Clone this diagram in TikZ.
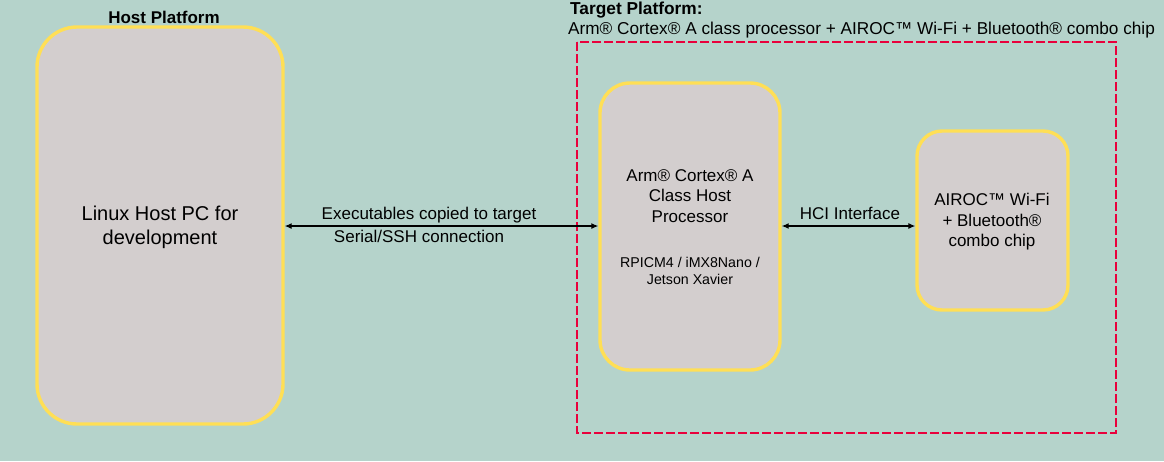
\documentclass[tikz,border=0pt]{standalone}
\usepackage{fontspec}
\setmainfont{Liberation Sans}
\usetikzlibrary{arrows.meta}
\definecolor{bg}{HTML}{B5D3CB}
\definecolor{boxfill}{HTML}{D3CECE}
\definecolor{boxline}{HTML}{FFDF55}
\definecolor{dashred}{HTML}{E8003C}
\begin{document}
\begin{tikzpicture}[x=1pt,y=-1pt,
  blk/.style={draw=boxline,fill=boxfill,line width=3.4pt,inner sep=0pt},
  lbl/.style={font=\fontsize{17}{20}\selectfont,align=center,inner sep=0pt},
  conn/.style={line width=1.2pt,{Latex[length=7pt,width=6pt]}-{Latex[length=7pt,width=6pt]}}]
\fill[bg] (0,0) rectangle (1164,461);
\useasboundingbox (0,0) rectangle (1164,461);
% dashed target frame
\draw[dashred,line width=2.5pt,dash pattern=on 9pt off 3pt] (577,42) rectangle (1116,433);
% boxes
\node[blk,rounded corners=40pt,minimum width=246pt,minimum height=397pt] (host) at (160,225.5) {};
\node[blk,rounded corners=30pt,minimum width=180pt,minimum height=287pt] (arm) at (690,226.5) {};
\node[blk,rounded corners=25pt,minimum width=151pt,minimum height=179pt] (airoc) at (992.5,220.5) {};
% texts inside
\node[lbl,font=\fontsize{20}{24}\selectfont] (hosttxt) at (160,227) {Linux Host PC for\\development};
\node[lbl,font=\fontsize{17}{20.5}\selectfont] (armtxt) at (690,196) {Arm® Cortex® A\\Class Host\\Processor};
\node[lbl,font=\fontsize{14.2}{17}\selectfont] (armsub) at (690,271) {RPICM4 / iMX8Nano /\\Jetson Xavier};
\node[lbl,font=\fontsize{17}{20.5}\selectfont] (airoctxt) at (992,222) {AIROC™ Wi-Fi\\+ Bluetooth®\\combo chip};
% titles
\node[lbl,font=\bfseries\fontsize{17}{20}\selectfont] (hosttitle) at (164,17) {Host Platform};
\node[lbl,font=\bfseries\fontsize{17.3}{20}\selectfont,anchor=west] (tgttitle) at (570,10) {Target Platform:};
\node[lbl,font=\fontsize{17.2}{20}\selectfont,anchor=west] (tgtsub) at (568,30) {Arm® Cortex® A class processor + AIROC™ Wi-Fi + Bluetooth® combo chip};
% connectors
\draw[conn] (host.east |- 0,226) -- (arm.west |- 0,226);
\node[lbl] (l1) at (429,215) {Executables copied to target};
\node[lbl] (l2) at (419,236) {Serial/SSH connection};
\draw[conn] (arm.east |- 0,226) -- (airoc.west |- 0,226);
\node[lbl] (l3) at (850,213) {HCI Interface};
\end{tikzpicture}
\end{document}
